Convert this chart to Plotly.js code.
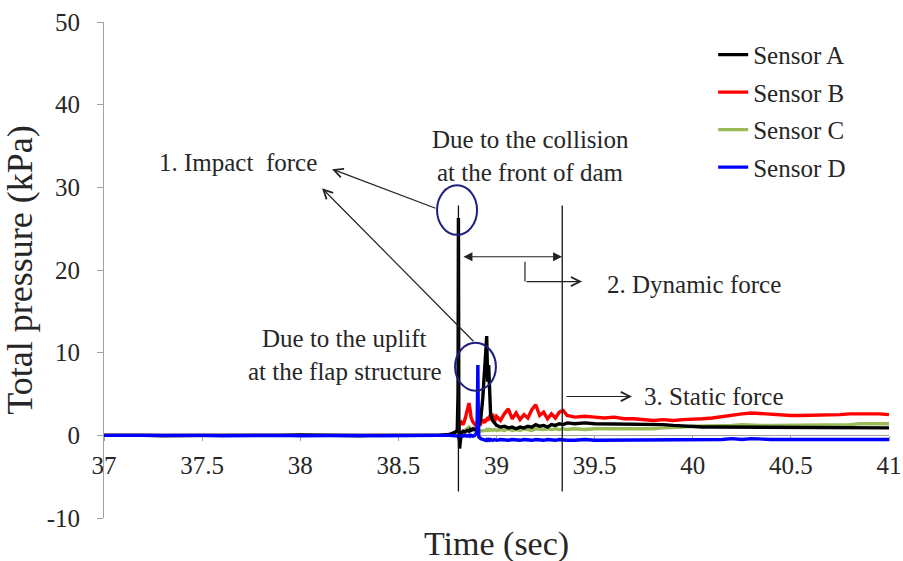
<!DOCTYPE html>
<html>
<head>
<meta charset="utf-8">
<script src="https://cdn.plot.ly/plotly-3.0.1.min.js"></script>
<style>html,body{margin:0;padding:0;background:#fff;}#chart{width:903px;height:561px;}</style>
</head>
<body>
<div id="chart"></div>
<script>
// ---- data ----
const time = [
  37.0,37.1,37.2,37.3,37.4,37.5,37.6,37.7,37.8,37.9,38.0,38.1,38.2,38.3,38.4,38.5,38.6,38.7,38.76,
  38.79,38.800,38.804,38.806,38.808,38.812,38.82,38.83,38.84,38.85,38.86,38.865,38.87,38.88,38.89,
  38.900,38.903,38.905,38.907,38.91,38.92,38.93,38.94,38.945,38.95,38.955,38.96,38.965,38.97,38.98,38.99,
  39.0,39.02,39.04,39.06,39.08,39.1,39.12,39.14,39.16,39.18,39.2,39.22,39.24,39.26,39.28,39.3,39.32,39.34,39.36,
  39.4,39.45,39.5,39.55,39.6,39.65,39.7,39.75,39.8,39.85,39.9,39.95,40.0,40.05,40.1,40.15,40.2,40.25,40.3,
  40.35,40.4,40.45,40.5,40.55,40.6,40.65,40.7,40.75,40.8,40.85,40.9,40.95,41.0
];
const sensorA = [
  0.0,0.05,0.0,-0.05,0.0,0.05,0.0,0.0,-0.05,0.0,0.05,0.0,0.0,-0.05,0.0,0.05,0.0,0.0,0.1,
  0.4,0.6,5.0,26.3,2.0,-1.6,0.2,0.5,0.4,0.6,0.5,0.7,0.6,0.8,0.7,
  0.9,0.8,1.0,0.9,1.2,2.0,4.5,7.5,10.0,12.0,6.5,8.5,4.0,2.5,1.8,1.4,
  1.2,1.0,1.1,0.9,1.0,0.8,1.0,0.9,1.1,1.0,1.3,1.1,1.2,1.0,1.3,1.2,1.4,1.3,1.5,
  1.4,1.5,1.4,1.4,1.3,1.4,1.3,1.4,1.3,1.3,1.2,1.1,1.1,1.0,1.0,1.0,0.9,1.0,0.9,
  0.9,1.0,0.9,0.9,0.9,1.0,0.9,0.9,0.9,0.9,1.0,0.9,0.9,0.9
];
const sensorB = [
  0.0,0.0,0.05,0.0,-0.05,0.0,0.0,0.05,0.0,0.0,-0.05,0.0,0.05,0.0,0.0,0.0,0.05,0.0,0.0,
  0.1,0.5,0.8,1.0,1.2,1.4,1.6,1.3,2.0,2.8,3.9,3.2,2.2,1.6,1.3,
  1.5,1.2,1.4,1.3,1.6,1.4,1.9,1.5,2.0,1.7,2.2,1.8,2.4,1.9,2.6,1.7,
  2.3,1.8,2.6,3.2,2.0,2.7,1.9,2.5,2.1,3.1,3.7,2.4,2.8,2.0,2.6,2.1,2.8,3.0,2.4,
  2.2,2.3,2.2,2.1,2.2,2.0,2.0,1.9,1.8,1.9,1.8,1.9,1.9,2.0,2.1,2.3,2.5,2.6,2.7,
  2.6,2.5,2.4,2.4,2.4,2.4,2.5,2.5,2.5,2.6,2.6,2.7,2.6,2.5
];
const sensorC = [
  0.0,0.0,0.0,0.05,0.0,0.0,-0.05,0.0,0.0,0.05,0.0,0.0,0.0,0.05,0.0,0.0,0.0,0.05,0.0,
  0.0,0.1,0.2,0.3,0.3,0.2,0.4,0.5,0.6,0.8,1.0,0.9,0.7,0.6,0.5,
  0.5,0.4,0.5,0.5,0.6,0.5,0.6,0.5,0.6,0.7,0.6,0.7,0.6,0.7,0.6,0.7,
  0.6,0.7,0.6,0.8,0.6,0.7,0.6,0.8,0.7,0.6,0.8,0.7,0.7,0.8,0.7,0.8,0.7,0.8,0.7,
  0.8,0.7,0.8,0.8,0.7,0.8,0.8,0.8,0.8,0.9,0.9,1.0,1.1,1.1,1.2,1.2,1.2,1.3,1.2,
  1.2,1.2,1.2,1.2,1.3,1.3,1.3,1.3,1.3,1.3,1.4,1.4,1.4,1.4
];
const sensorD = [
  0.0,-0.05,0.0,0.0,0.05,0.0,-0.05,0.0,0.0,0.0,-0.05,0.0,0.05,0.0,-0.05,0.0,0.0,0.0,0.0,
  0.0,0.0,-0.1,-0.2,-0.1,0.0,0.0,-0.1,0.0,-0.1,0.0,-0.1,0.0,-0.1,0.0,
  0.3,4.0,8.5,3.0,-0.2,-0.4,-0.5,-0.5,-0.6,-0.5,-0.6,-0.5,-0.6,-0.5,-0.6,-0.5,
  -0.6,-0.5,-0.6,-0.6,-0.5,-0.6,-0.6,-0.5,-0.6,-0.6,-0.5,-0.6,-0.6,-0.5,-0.6,-0.6,-0.5,-0.6,-0.6,
  -0.6,-0.5,-0.6,-0.6,-0.5,-0.6,-0.5,-0.6,-0.6,-0.5,-0.5,-0.6,-0.5,-0.5,-0.5,-0.5,-0.4,-0.5,-0.4,
  -0.5,-0.5,-0.5,-0.5,-0.5,-0.5,-0.5,-0.5,-0.5,-0.5,-0.5,-0.5,-0.5,-0.5
];
const seriesNames = ['Sensor A','Sensor B','Sensor C','Sensor D'];
const xTicks = [37,37.5,38,38.5,39,39.5,40,40.5,41];
const yTicks = [-10,0,10,20,30,40,50];

// ---- drawing ----
const FONT = '"Liberation Serif","Times New Roman",serif';
const TXT = '#262626';
function tr(name, y, color, rank) {
  return {x: time, y: y, name: name, type: 'scatter', mode: 'lines',
          line: {color: color, width: 3.4}, legendrank: rank, legendgroup: name};
}
const data = [
  tr(seriesNames[1], sensorB, '#ff0000', 2),
  tr(seriesNames[2], sensorC, '#9bbb59', 3),
  tr(seriesNames[0], sensorA, '#000000', 1),
  tr(seriesNames[3], sensorD, '#0000ff', 4)
];

const txtFont = {family: FONT, size: 25, color: TXT};
function label(text, x, y, xanchor) {
  return {text: text, x: x, y: y, xref: 'x', yref: 'y', showarrow: false,
          xanchor: xanchor || 'center', yanchor: 'middle', font: txtFont};
}
function arrow(x, y, ax, ay, head, side) {
  return {x: x, y: y, ax: ax, ay: ay, xref: 'x', yref: 'y', axref: 'x', ayref: 'y',
          text: '', showarrow: true, arrowhead: head, arrowsize: 1.5, arrowwidth: 1.2,
          arrowcolor: '#222', arrowside: side || 'end', startarrowhead: head, startarrowsize: 1.5};
}
const annotations = [
  label('1. Impact&nbsp; force', 37.683, 33.0),
  label('Due to the collision', 39.171, 35.8),
  label('at the front of dam', 39.171, 31.8),
  label('Due to the uplift', 38.228, 11.7),
  label('at the flap structure', 38.228, 7.7),
  label('2. Dynamic force', 39.553, 18.3, 'left'),
  label('3. Static force', 39.741, 4.7, 'left'),
  arrow(38.162, 32.2, 38.697, 27.4, 5),
  arrow(38.111, 29.9, 38.890, 11.2, 5),
  arrow(39.334, 21.6, 38.824, 21.6, 2, 'end+start'),
  arrow(39.436, 18.6, 39.145, 18.6, 5),
  arrow(39.690, 4.7, 39.349, 4.7, 5),
  {text: 'Time (sec)', xref: 'paper', yref: 'paper', x: 0.5006, y: -0.052,
   showarrow: false, xanchor: 'center', yanchor: 'middle',
   font: {family: FONT, size: 34, color: TXT}}
];
const shapes = [
  {type: 'line', xref: 'x', yref: 'y', x0: 38.806, x1: 38.806, y0: -6.8, y1: 27.8, line: {color: '#111', width: 1.3}},
  {type: 'line', xref: 'x', yref: 'y', x0: 39.335, x1: 39.335, y0: -6.8, y1: 27.8, line: {color: '#111', width: 1.3}},
  {type: 'line', xref: 'x', yref: 'y', x0: 39.145, x1: 39.145, y0: 21.0, y1: 18.6, line: {color: '#222', width: 1.2}},
  {type: 'circle', xref: 'x', yref: 'y', x0: 38.697, x1: 38.901, y0: 24.25, y1: 30.25, line: {color: '#1f1f80', width: 2}},
  {type: 'circle', xref: 'x', yref: 'y', x0: 38.789, x1: 38.997, y0: 5.4, y1: 11.2, line: {color: '#1f1f80', width: 2}}
];

const layout = {
  width: 903, height: 561,
  margin: {l: 104, r: 14, t: 22, b: 43, pad: 0},
  paper_bgcolor: '#fff', plot_bgcolor: '#fff',
  font: {family: FONT, color: TXT},
  showlegend: true,
  legend: {x: 0.776, y: 0.980, xanchor: 'left', yanchor: 'top', bgcolor: 'rgba(0,0,0,0)',
           font: {family: FONT, size: 25, color: TXT}, traceorder: 'grouped', tracegroupgap: 2},
  xaxis: {range: [37, 41], tickvals: xTicks, ticktext: xTicks.map(String),
          anchor: 'free', position: 1/6, showline: true, linecolor: '#a0a0a0', linewidth: 1,
          ticks: 'outside', ticklen: 5, tickcolor: '#a0a0a0', showgrid: false, zeroline: false,
          ticklabelstandoff: 3,
          layer: 'below traces', tickfont: {family: FONT, size: 25, color: TXT}},
  yaxis: {range: [-10, 50], tickvals: yTicks, ticktext: yTicks.map(String),
          showline: true, linecolor: '#a0a0a0', linewidth: 1, ticks: 'outside', ticklen: 6,
          tickcolor: '#a0a0a0', showgrid: false, zeroline: false, ticklabelstandoff: 12,
          tickfont: {family: FONT, size: 25, color: TXT},
          title: {text: 'Total pressure (kPa)', standoff: 5, font: {family: FONT, size: 36, color: TXT}}},
  annotations: annotations,
  shapes: shapes
};
Plotly.newPlot('chart', data, layout, {displayModeBar: false, staticPlot: true});
</script>
</body>
</html>
